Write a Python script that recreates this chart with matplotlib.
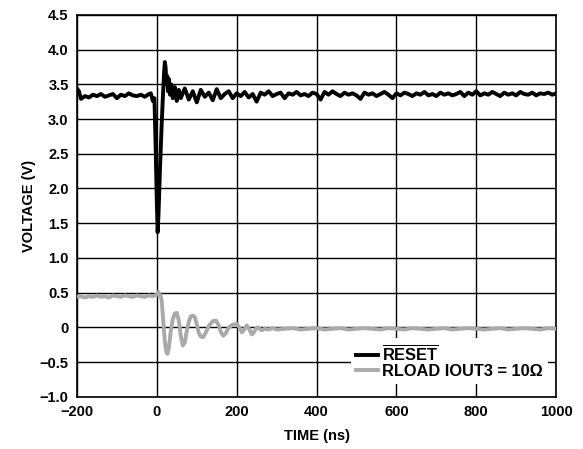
import numpy as np
import matplotlib
matplotlib.use('Agg')
import matplotlib.pyplot as plt

plt.rcParams['font.family'] = ['Liberation Sans', 'DejaVu Sans']
plt.rcParams['font.weight'] = 'bold'
plt.rcParams['mathtext.fontset'] = 'custom'
plt.rcParams['mathtext.rm'] = 'Liberation Sans:bold'
plt.rcParams['mathtext.bf'] = 'Liberation Sans:bold'

# RESET trace (black), time in ns / volts
reset_t = [-200, -195, -190, -180, -170, -160, -150, -140, -130, -120, -110,
           -100, -90, -80, -70, -60, -50, -40, -30, -20, -15, -10, -6, -3,
           0, 2, 4, 8, 12, 15, 18, 20, 22, 24, 26, 28, 30, 33, 36, 40, 45,
           50, 55, 60, 70, 80, 90, 100, 110, 120, 130, 140, 150, 160, 170,
           180, 190, 200, 210, 220, 230, 240, 250, 260, 270, 280, 290, 300,
           310, 320, 330, 340, 350, 360, 370, 380, 390, 400, 410, 420, 430,
           440, 450, 460, 470, 480, 490, 500, 510, 520, 530, 540, 550, 560,
           570, 580, 590, 600, 610, 620, 630, 640, 650, 660, 670, 680, 690,
           700, 710, 720, 730, 740, 750, 760, 770, 780, 790, 800, 810, 820,
           830, 840, 850, 860, 870, 880, 890, 900, 910, 920, 930, 940, 950,
           960, 970, 980, 990, 1000]
reset_v = [3.44, 3.40, 3.29, 3.33, 3.31, 3.35, 3.33, 3.36, 3.32, 3.34, 3.36,
           3.30, 3.35, 3.33, 3.37, 3.34, 3.33, 3.35, 3.32, 3.36, 3.37, 3.26, 3.30, 2.60,
           1.80, 1.37, 1.60, 2.30, 2.90, 3.30, 3.65, 3.82, 3.74, 3.50, 3.62, 3.40, 3.58, 3.35, 3.50, 3.30, 3.46,
           3.26, 3.42, 3.30, 3.44, 3.28, 3.40, 3.24, 3.42, 3.32, 3.38, 3.27, 3.43, 3.30, 3.36,
           3.40, 3.30, 3.37, 3.33, 3.39, 3.31, 3.36, 3.25, 3.38, 3.35, 3.40, 3.33, 3.36,
           3.38, 3.30, 3.37, 3.35, 3.39, 3.34, 3.36, 3.33, 3.38, 3.36, 3.28, 3.39, 3.35,
           3.40, 3.36, 3.33, 3.38, 3.35, 3.37, 3.34, 3.29, 3.38, 3.35, 3.37, 3.33, 3.36,
           3.39, 3.35, 3.30, 3.37, 3.34, 3.38, 3.36, 3.33, 3.37, 3.35, 3.39, 3.34, 3.36,
           3.33, 3.38, 3.35, 3.37, 3.34, 3.36, 3.39, 3.33, 3.38, 3.35, 3.40, 3.34, 3.37,
           3.35, 3.39, 3.36, 3.33, 3.38, 3.35, 3.37, 3.34, 3.39, 3.36, 3.35, 3.38, 3.34,
           3.37, 3.36, 3.38, 3.35, 3.37]

# RLOAD IOUT3 = 10 ohm trace (gray)
iout_t = [-200, -190, -180, -170, -160, -150, -140, -130, -120, -110, -100,
          -90, -80, -70, -60, -50, -40, -30, -20, -10, 0, 4, 8, 12, 16, 20,
          24, 27, 30, 35, 40, 45, 50, 55, 60, 65, 70, 75, 80, 85, 90, 95,
          100, 105, 110, 116, 122, 130, 140, 148, 155, 160, 166, 172, 180,
          190, 200, 207, 213, 219, 225, 231, 238, 244, 250, 256, 262, 270,
          280, 290, 300, 320, 340, 360, 380, 400, 420, 440, 460, 480, 500,
          520, 540, 560, 580, 600, 620, 640, 660, 680, 700, 720, 740, 760,
          780, 800, 820, 840, 860, 880, 900, 920, 940, 960, 980, 1000]
iout_v = [0.44, 0.45, 0.43, 0.45, 0.44, 0.46, 0.44, 0.45, 0.43, 0.46, 0.45,
          0.44, 0.46, 0.45, 0.44, 0.46, 0.45, 0.44, 0.46, 0.45, 0.47, 0.51, 0.47, 0.40, 0.10, -0.20,
          -0.36, -0.38, -0.30, -0.05, 0.12, 0.20, 0.21, 0.10, -0.12, -0.26, -0.22, -0.05, 0.08, 0.16, 0.17, 0.15,
          0.05, -0.08, -0.13, -0.14, -0.08, 0.02, 0.09, 0.10, 0.03, -0.06, -0.12, -0.09, 0.00,
          0.04, 0.05, 0.00, -0.07, -0.03, 0.03, -0.02, -0.10, -0.06, 0.00, -0.01, -0.04, -0.02,
          -0.03, -0.01, -0.03, -0.02, -0.01, -0.03, -0.02, -0.01, -0.03, -0.02, -0.01, -0.03, -0.02,
          -0.01, -0.02, -0.03, -0.01, -0.02, -0.03, -0.01, -0.02, -0.03, -0.02, -0.01, -0.03, -0.02,
          -0.01, -0.02, -0.03, -0.02, -0.01, -0.03, -0.02, -0.01, -0.02, -0.03, -0.01, -0.02]

x_ticks = [-200, 0, 200, 400, 600, 800, 1000]
y_ticks = [-1.0, -0.5, 0, 0.5, 1.0, 1.5, 2.0, 2.5, 3.0, 3.5, 4.0, 4.5]
y_labels = ['\u22121.0', '\u22120.5', '0', '0.5', '1.0', '1.5', '2.0', '2.5',
            '3.0', '3.5', '4.0', '4.5']
x_labels = ['\u2212200', '0', '200', '400', '600', '800', '1000']

fig = plt.figure(figsize=(5.83, 4.49), dpi=100)
ax = fig.add_axes([0.132, 0.116, 0.822, 0.851])

ax.plot(reset_t, reset_v, color='black', lw=2.8,
        label=r'$\overline{\mathrm{RESET}}$', zorder=3)
ax.plot(iout_t, iout_v, color='#aaaaaa', lw=2.8,
        label='RLOAD IOUT3 = 10\u03a9', zorder=3)

ax.set_xlim(-200, 1000)
ax.set_ylim(-1.0, 4.5)
ax.set_xticks(x_ticks)
ax.set_xticklabels(x_labels)
ax.set_yticks(y_ticks)
ax.set_yticklabels(y_labels)
ax.tick_params(length=0, labelsize=10.5, pad=6)
ax.grid(True, color='black', lw=1.0)
for s in ax.spines.values():
    s.set_linewidth(1.2)

ax.set_xlabel('TIME (ns)', fontsize=10.5, fontweight='bold')
ax.set_ylabel('VOLTAGE (V)', fontsize=10.5, fontweight='bold')
ax.xaxis.set_label_coords(0.5, -0.085)
ax.yaxis.set_label_coords(-0.085, 0.5)

leg = ax.legend(loc='lower right', bbox_to_anchor=(1.0, 0.012), fontsize=11.8,
                frameon=True, fancybox=False, handlelength=1.3,
                handletextpad=0.3, labelspacing=0.05, borderpad=0.3)
leg.get_frame().set_edgecolor('none')
leg.get_frame().set_facecolor('white')
leg.get_frame().set_alpha(1.0)

fig.savefig('out.png', dpi=100)
